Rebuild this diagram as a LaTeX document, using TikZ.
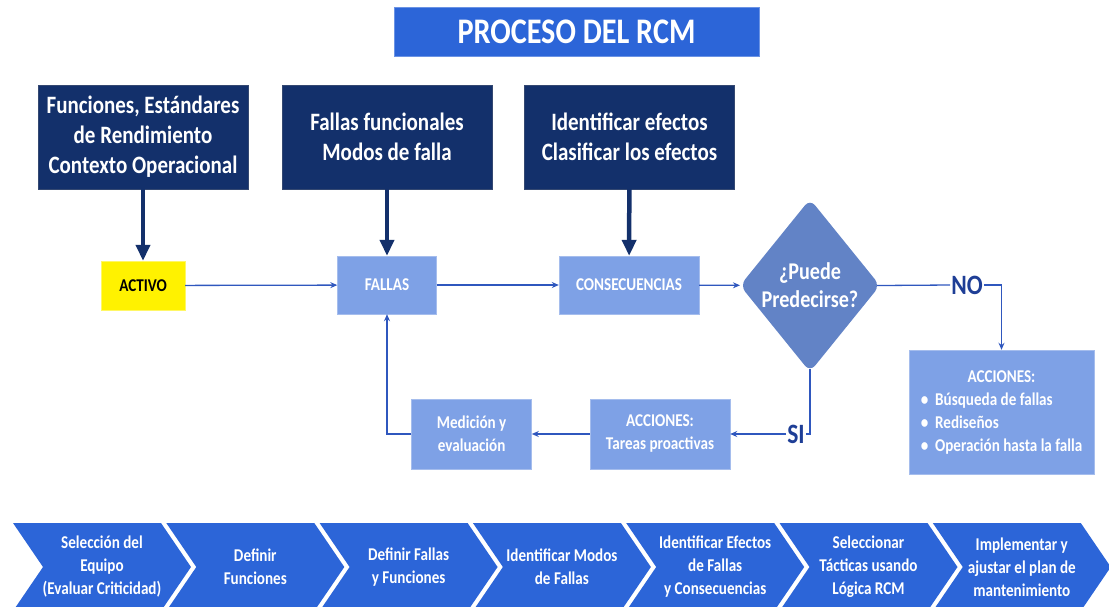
\documentclass[tikz,border=0pt]{standalone}
\usepackage{fontspec}
\setmainfont{Carlito}[FakeStretch=0.84]
\usepackage{xcolor}
\usetikzlibrary{arrows.meta,positioning,shapes.geometric}
\definecolor{rcmblue}{RGB}{44,101,216}
\definecolor{rcmnavy}{RGB}{19,48,107}
\definecolor{rcmlight}{RGB}{126,161,230}
\definecolor{rcmdia}{RGB}{98,131,198}
\definecolor{rcmline}{RGB}{47,87,190}
\definecolor{rcmtext}{RGB}{30,62,150}

\begin{document}
\begin{tikzpicture}[
    x=1pt, y=-1pt,
    titlebox/.style = {rectangle, fill=rcmblue, draw=rcmblue!70!white, text=white,
                       minimum width=365pt, minimum height=49pt, inner sep=0pt,
                       font=\fontsize{36}{40}\selectfont\bfseries},
    navybox/.style = {rectangle, fill=rcmnavy, draw=rcmnavy!70!gray, text=white,
                      align=center, minimum width=210pt, minimum height=104pt,
                      inner sep=0pt, font=\fontsize{25}{30}\selectfont\bfseries},
    lightbox/.style = {rectangle, fill=rcmlight, draw=rcmlight!70!white, text=white,
                       align=center, inner sep=0pt, font=\fontsize{18}{23}\selectfont\bfseries},
    decision/.style = {diamond, fill=rcmdia, rounded corners=8pt, aspect=0.81,
                       minimum width=140pt, minimum height=173pt, inner sep=0pt,
                       text=white, align=center, font=\fontsize{24}{28}\selectfont\bfseries},
    answer/.style = {inner sep=1pt, text=rcmtext, font=\fontsize{28}{30}\selectfont\bfseries},
    stagetxt/.style = {text=white, align=center, font=\fontsize{18}{23}\selectfont\bfseries},
    feed/.style = {-{Triangle[length=16pt,width=14pt]}, line width=4.5pt, rcmnavy},
    flow/.style = {-{Stealth[length=7pt,width=6pt]}, line width=1.3pt, rcmline},
    plain/.style = {line width=1.3pt, rcmline}
  ]
    \useasboundingbox (0,0) rectangle (1109,606);

    \node[titlebox] (title) at (576.5,31.5) {PROCESO DEL RCM};

    \node[navybox] (funcs) at (143,137) {Funciones, Estándares\\de Rendimiento\\Contexto Operacional};
    \node[navybox] (modes) at (387,137) {Fallas funcionales\\Modos de falla};
    \node[navybox] (effects) at (629.5,137) {Identificar efectos\\Clasificar los efectos};

    \node[lightbox, fill=yellow, draw=yellow!60!white, text=black,
          minimum width=84pt, minimum height=49pt] (activo) at (143,285.5) {ACTIVO};
    \node[lightbox, minimum width=99pt, minimum height=58pt] (fallas) at (387,285) {FALLAS};
    \node[lightbox, minimum width=140pt, minimum height=58pt] (conseq) at (629,285) {CONSECUENCIAS};
    \node[decision] (dia) at (810,285.5) {¿Puede\\Predecirse?};

    \node[answer] (no) at (967,285) {NO};
    \node[answer] (si) at (796,434) {SI};

    \node[lightbox, minimum width=185pt, minimum height=124pt] (accr) at (1001.5,412)
      {\begin{tabular}{@{}l@{}}
         \multicolumn{1}{@{}c@{}}{ACCIONES:}\\
         \textbullet\ \ Búsqueda de fallas\\
         \textbullet\ \ Rediseños\\
         \textbullet\ \ Operación hasta la falla
       \end{tabular}};
    \node[lightbox, minimum width=140pt, minimum height=70pt] (tareas) at (660,434) {ACCIONES:\\Tareas proactivas};
    \node[lightbox, minimum width=120pt, minimum height=70pt, left=58pt of tareas] (medic) {Medición y\\evaluación};

    \draw[feed] (funcs) -- (activo);
    \draw[feed] (modes) -- (fallas);
    \draw[feed] (effects) -- (conseq);

    \draw[flow] (activo) -- (fallas);
    \draw[flow] (fallas) -- (conseq);
    \draw[flow] (conseq) -- (dia);
    \draw[plain, shorten <=-3pt] (dia.east) -- (no.west);
    \draw[flow] (no.east) -| (accr.north);
    \draw[plain, shorten <=-3pt] (dia.south) |- (si.east);
    \draw[flow] (si.west) -- (tareas.east);
    \draw[flow] (tareas) -- (medic);
    \draw[flow] (medic.west) -| (fallas.south);

    \foreach \txt [count=\i from 0] in {{Selección del\\Equipo\\(Evaluar Criticidad)},
        {Definir\\Funciones}, {Definir Fallas\\y Funciones}, {Identificar Modos\\de Fallas},
        {Identificar Efectos\\de Fallas\\y Consecuencias}, {Seleccionar\\Tácticas usando\\Lógica RCM},
        {Implementar y\\ajustar el plan de\\mantenimiento}} {
      \pgfmathsetmacro\cx{13+153.3*\i}
      \fill[rcmblue] (\cx,523) -- ++(148,0) -- ++(30,44) -- ++(-30,44) -- ++(-148,0) -- ++(30,-44) -- cycle;
      \node[stagetxt] (stage\i) at (\cx+89,567) {\txt};
    }
  \end{tikzpicture}
\end{document}
